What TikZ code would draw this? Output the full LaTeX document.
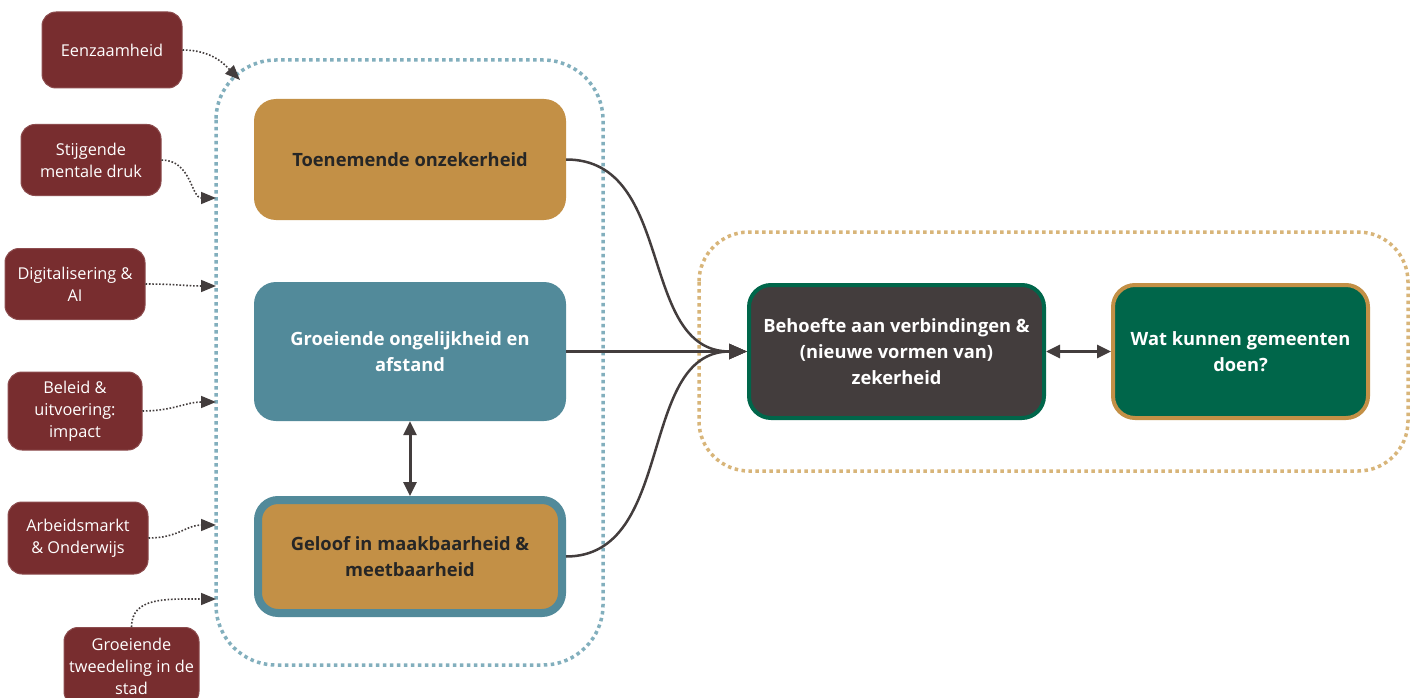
\documentclass[tikz,border=0pt]{standalone}
\usepackage{fontspec}
\setmainfont{Open Sans}
\usetikzlibrary{arrows.meta}
\definecolor{redc}{HTML}{782D2F}
\definecolor{goldc}{HTML}{C39046}
\definecolor{bluec}{HTML}{528A9A}
\definecolor{bluedot}{HTML}{82AFBD}
\definecolor{golddot}{HTML}{D8B579}
\definecolor{darkc}{HTML}{433D3D}
\definecolor{greenc}{HTML}{00664A}
\definecolor{textdark}{HTML}{262626}
\begin{document}
\begin{tikzpicture}[x=1pt,y=-1pt,
  factor/.style={rounded corners=14pt, fill=redc, draw=redc!85!white, line width=1pt, text=white,
    font=\fontsize{16.3}{22}\selectfont, align=center, inner sep=0pt},
  mainbox/.style={rounded corners=22pt, inner sep=0pt, align=center,
    font=\fontsize{18.3}{26}\selectfont\bfseries, minimum width=312pt},
  container/.style={rounded corners=60pt, line width=3.5pt, dash pattern=on 3.5pt off 3.5pt},
  dotarrow/.style={draw=darkc, line width=1.6pt, dash pattern=on 1.6pt off 1.8pt,
    -{Triangle[length=15pt,width=12pt,fill=darkc]}},
  solidarrow/.style={draw=darkc, line width=2.5pt, -{Triangle[length=18pt,width=15pt]}},
  dblarrow/.style={draw=darkc, line width=3pt, {Triangle[length=14pt,width=13pt]}-{Triangle[length=14pt,width=13pt]}}
]
\clip (0,0) rectangle (1416,698);
\fill[white] (0,0) rectangle (1416,698);

% containers
\draw[container, draw=bluedot] (216,60) rectangle (603,665);
\draw[container, draw=golddot, rounded corners=50pt] (699,232) rectangle (1408,471);

% factors
\node[factor, minimum width=140pt, minimum height=76pt] (f1) at (112,50) {Eenzaamheid};
\node[factor, minimum width=140pt, minimum height=71pt] (f2) at (91,160) {Stijgende\\mentale druk};
\node[factor, minimum width=140pt, minimum height=71pt] (f3) at (75,284) {Digitalisering \&\\AI};
\node[factor, minimum width=134pt, minimum height=78pt] (f4) at (75,411) {Beleid \&\\uitvoering:\\impact};
\node[factor, minimum width=140pt, minimum height=72pt] (f5) at (78,538) {Arbeidsmarkt\\\& Onderwijs};
\node[factor, minimum width=135pt, minimum height=78pt, anchor=north] (f6) at (131.5,627) {Groeiende\\tweedeling in de\\stad};

% main boxes
\node[mainbox, fill=goldc, text=textdark, minimum height=121pt] (m1) at (410,159.5) {Toenemende onzekerheid};
\node[mainbox, fill=bluec, text=white, minimum height=139pt] (m2) at (410,351.5) {Groeiende ongelijkheid en\\afstand};
\node[mainbox, fill=goldc, draw=bluec, line width=8pt, text=textdark, minimum width=304pt, minimum height=113pt, rounded corners=20pt] (m3) at (410,556.5) {Geloof in maakbaarheid \&\\meetbaarheid};

\node[rounded corners=22pt, fill=darkc, draw=greenc, line width=4pt, text=white, align=center,
  font=\fontsize{18.3}{26}\selectfont\bfseries, minimum width=295pt, minimum height=133pt, inner sep=0pt] (b) at (896.5,351.5)
  {Behoefte aan verbindingen \&\\(nieuwe vormen van)\\zekerheid};
\node[rounded corners=22pt, fill=greenc, draw=goldc, line width=4pt, text=white, align=center,
  font=\fontsize{18.3}{26}\selectfont\bfseries, minimum width=255pt, minimum height=133pt, inner sep=0pt] (w) at (1240.5,351.5)
  {Wat kunnen gemeenten\\doen?};

% dotted arrow targets
\coordinate (t1) at (240,80);
\coordinate (t2) at (216,198);
\coordinate (t3) at (216,286);
\coordinate (t4) at (216,402);
\coordinate (t5) at (216,525);
\coordinate (t6) at (216,599);

\draw[dotarrow] (f1.east) .. controls +(30,0) and +(-15,-15) .. (t1);
\draw[dotarrow] (f2.east) .. controls +(30,0) and +(-25,0) .. (t2);
\draw[dotarrow] (f3.east) .. controls +(30,0) and +(-30,0) .. (t3);
\draw[dotarrow] (f4.east) .. controls +(30,0) and +(-30,0) .. (t4);
\draw[dotarrow] (f5.east) .. controls +(30,0) and +(-30,0) .. (t5);
\draw[dotarrow] (f6.north) .. controls +(0,-30) and +(-50,0) .. (t6);

% solid arrows
\draw[solidarrow] (m1.east) .. controls +(110,0) and +(-110,0) .. (b.west);
\draw[solidarrow] (m2.east) -- (b.west);
\draw[solidarrow] (m3.east) .. controls +(110,0) and +(-110,0) .. (b.west);

\draw[dblarrow] (m2.south) -- (m3.north);
\draw[dblarrow] (b.east) -- (w.west);
\end{tikzpicture}
\end{document}
